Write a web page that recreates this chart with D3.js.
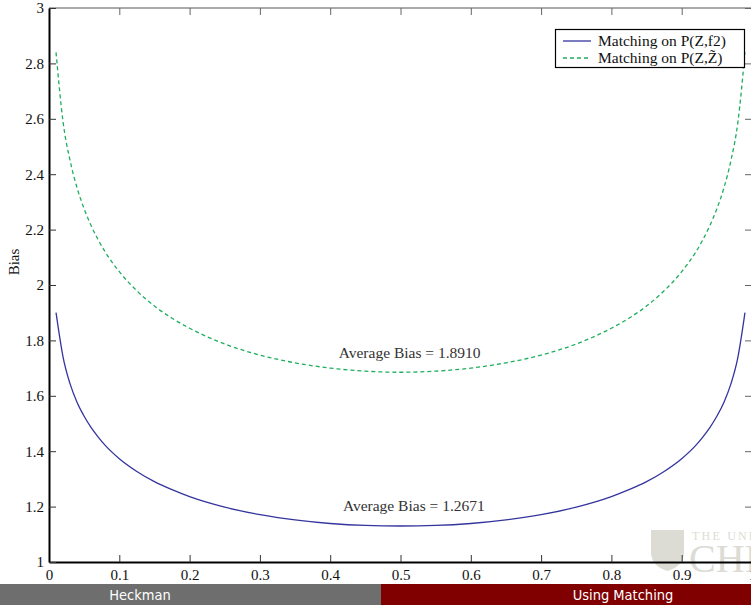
<!DOCTYPE html>
<html><head><meta charset="utf-8">
<script src="https://cdn.jsdelivr.net/npm/d3@7"></script>
<style>
html,body{margin:0;padding:0;background:#fff;}
svg{display:block;}
</style></head>
<body>
<svg id="chart" width="751" height="605"></svg>
<script>
// ---- data ----
const propensity = [0.01,0.02,0.03,0.04,0.05,0.06,0.07,0.08,0.1,0.125,0.15,0.175,0.2,0.25,0.3,0.35,0.4,0.45,0.5,
  0.55,0.6,0.65,0.7,0.75,0.8,0.825,0.85,0.875,0.9,0.92,0.93,0.94,0.95,0.96,0.97,0.98,0.99];
const biasF2 = [1.900,1.740,1.643,1.576,1.526,1.485,1.451,1.421,1.373,1.327,1.290,1.261,1.236,1.198,1.171,1.152,1.139,1.132,1.130,
  1.132,1.139,1.152,1.171,1.198,1.236,1.261,1.290,1.327,1.373,1.421,1.451,1.485,1.526,1.576,1.643,1.740,1.900];
const biasZ = [2.840,2.589,2.449,2.350,2.275,2.214,2.163,2.119,2.048,1.979,1.924,1.880,1.844,1.787,1.747,1.719,1.700,1.689,1.685,
  1.689,1.700,1.719,1.747,1.787,1.844,1.880,1.924,1.979,2.048,2.119,2.163,2.214,2.275,2.350,2.449,2.589,2.840];
const xTicks = [0,0.1,0.2,0.3,0.4,0.5,0.6,0.7,0.8,0.9,1];
const yTicks = [1,1.2,1.4,1.6,1.8,2,2.2,2.4,2.6,2.8,3];
const xTickLabels = ["0","0.1","0.2","0.3","0.4","0.5","0.6","0.7","0.8","0.9","1"];
const yTickLabels = ["1","1.2","1.4","1.6","1.8","2","2.2","2.4","2.6","2.8","3"];
const seriesNames = ["Matching on P(Z,f2)", "Matching on P(Z,Z\u0303)"];
const avgLabels = [{p:0.513, v:1.736, text:"Average Bias = 1.8910"},
                   {p:0.519, v:1.185, text:"Average Bias = 1.2671"}];
const footerSections = ["Heckman", "Using Matching"];

// ---- layout ----
const svg = d3.select("#chart");
const L = 49, R = 752, T = 8, B = 562;
const x = d3.scaleLinear().domain([0,1]).range([L,R]);
const y = d3.scaleLinear().domain([1,3]).range([B,T]);
const serif = "'Liberation Serif','Times New Roman',serif";
const blue = "#34349e", green = "#1fae5e";

// watermark logo (decorative)
const logo = svg.append("g").attr("fill","#dcdcd4");
logo.append("path").attr("d","M651,530 L684,530 L684,552 Q684,566 667.5,571 Q651,566 651,552 Z");
logo.append("text").attr("x",692).attr("y",540).attr("font-family",serif).attr("font-size",12)
  .attr("letter-spacing",2.2).text("THE UNIVERSITY OF");
logo.append("text").attr("x",689).attr("y",572).attr("font-family",serif).attr("font-size",40).text("CHICAGO");

// frame (top/right thin gray)
svg.append("line").attr("x1",L).attr("x2",R).attr("y1",T).attr("y2",T).attr("stroke","#555").attr("stroke-width",1);
svg.append("line").attr("x1",R).attr("x2",R).attr("y1",T).attr("y2",B).attr("stroke","#555").attr("stroke-width",1);

// top & right inward ticks
svg.append("g").attr("transform",`translate(0,${T})`)
  .call(d3.axisTop(x).tickValues(xTicks).tickSizeInner(-7).tickSizeOuter(0).tickFormat(""))
  .call(g=>{g.select(".domain").remove(); g.selectAll("line").attr("stroke","#666");});
svg.append("g").attr("transform",`translate(${R},0)`)
  .call(d3.axisRight(y).tickValues(yTicks).tickSizeInner(-7).tickSizeOuter(0).tickFormat(""))
  .call(g=>{g.select(".domain").remove(); g.selectAll("line").attr("stroke","#666");});

// bottom axis
const xa = svg.append("g").attr("transform",`translate(0,${B})`)
  .call(d3.axisBottom(x).tickValues(xTicks).tickSizeInner(-7).tickSizeOuter(0).tickPadding(7)
    .tickFormat((d,i)=>xTickLabels[i]));
xa.select(".domain").attr("stroke","#000").attr("stroke-width",2);
xa.selectAll("line").attr("stroke","#333");
xa.selectAll("text").attr("font-family",serif).attr("font-size",15).attr("fill","#111");

// left axis
const ya = svg.append("g").attr("transform",`translate(${L},0)`)
  .call(d3.axisLeft(y).tickValues(yTicks).tickSizeInner(-7).tickSizeOuter(0).tickPadding(5)
    .tickFormat((d,i)=>yTickLabels[i]));
ya.select(".domain").attr("stroke","#000").attr("stroke-width",2);
ya.selectAll("line").attr("stroke","#333");
ya.selectAll("text").attr("font-family",serif).attr("font-size",15).attr("fill","#111");

svg.append("text").attr("transform","translate(19,262) rotate(-90)").attr("text-anchor","middle")
  .attr("font-family",serif).attr("font-size",15).attr("fill","#111").text("Bias");

// curves
const line = d3.line().x(d=>x(d[0])).y(d=>y(d[1])).curve(d3.curveMonotoneX);
svg.append("path").datum(propensity.map((p,i)=>[p,biasF2[i]])).attr("d",line)
  .attr("fill","none").attr("stroke",blue).attr("stroke-width",1.3);
svg.append("path").datum(propensity.map((p,i)=>[p,biasZ[i]])).attr("d",line)
  .attr("fill","none").attr("stroke",green).attr("stroke-width",1.3).attr("stroke-dasharray","4,3");

// average labels
svg.selectAll("text.avg").data(avgLabels).join("text").attr("class","avg")
  .attr("x",d=>x(d.p)).attr("y",d=>y(d.v)).attr("text-anchor","middle")
  .attr("font-family",serif).attr("font-size",15.5).attr("fill","#333").text(d=>d.text);

// legend
const lg = svg.append("g");
lg.append("rect").attr("x",555.5).attr("y",29.5).attr("width",189).attr("height",38)
  .attr("fill","#fff").attr("stroke","#000").attr("stroke-width",1.2);
const legendRows = [{name:seriesNames[0], color:blue, dash:null, y:41},
                    {name:seriesNames[1], color:green, dash:"4,3", y:58}];
legendRows.forEach(r=>{
  lg.append("line").attr("x1",563).attr("x2",591).attr("y1",r.y).attr("y2",r.y)
    .attr("stroke",r.color).attr("stroke-width",1.3).attr("stroke-dasharray",r.dash);
  lg.append("text").attr("x",598).attr("y",r.y+5).attr("font-family",serif).attr("font-size",15.5)
    .attr("fill","#111").text(r.name);
});

// footer bar
const fx = d3.scaleBand().domain(footerSections).range([0,751]).paddingInner(0);
const fw = [381, 370];
const fcol = ["#6e6e6e","#800000"];
const fcx = [140, 623];
footerSections.forEach((s,i)=>{
  svg.append("rect").attr("x", i===0?0:381).attr("y",584).attr("width",fw[i]).attr("height",21).attr("fill",fcol[i]);
  svg.append("text").attr("x",fcx[i]).attr("y",600).attr("text-anchor","middle")
    .attr("font-family","'DejaVu Sans Condensed','Liberation Sans',sans-serif").attr("font-size",14.5)
    .attr("fill","#fff").text(s);
});
</script>
</body></html>
